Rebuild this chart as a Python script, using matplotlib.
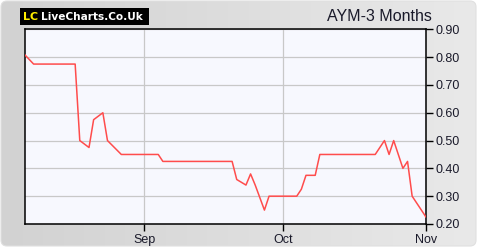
import matplotlib
matplotlib.use("Agg")
import matplotlib.pyplot as plt
from matplotlib.patches import FancyBboxPatch, Rectangle
from matplotlib.colors import LinearSegmentedColormap
import numpy as np
import pandas as pd

dates = ["2024-08-06", "2024-08-08", "2024-08-17", "2024-08-18", "2024-08-20",
         "2024-08-21", "2024-08-23", "2024-08-24", "2024-08-27", "2024-09-04",
         "2024-09-05", "2024-09-20", "2024-09-21", "2024-09-23", "2024-09-24",
         "2024-09-25", "2024-09-27", "2024-09-28", "2024-10-04", "2024-10-05",
         "2024-10-06", "2024-10-08", "2024-10-09", "2024-10-21", "2024-10-23",
         "2024-10-24", "2024-10-25", "2024-10-27", "2024-10-28", "2024-10-29",
         "2024-10-31", "2024-11-01"]
prices = [0.81, 0.775, 0.775, 0.50, 0.475, 0.575, 0.60, 0.50, 0.45, 0.45,
          0.425, 0.425, 0.36, 0.34, 0.38, 0.34, 0.25, 0.30, 0.30, 0.325,
          0.375, 0.375, 0.45, 0.45, 0.50, 0.45, 0.50, 0.40, 0.425, 0.30,
          0.25, 0.225]
yticks = [0.20, 0.30, 0.40, 0.50, 0.60, 0.70, 0.80, 0.90]
xtick_dates = ["2024-09-01", "2024-10-01", "2024-11-01"]
xtick_labels = ["Sep", "Oct", "Nov"]
title = "AYM-3 Months"

plt.rcParams['font.family'] = ['Liberation Sans', 'DejaVu Sans']

W, H = 480, 250
fig = plt.figure(figsize=(W/100, H/100), dpi=100)
fig.patch.set_facecolor("white")

bg = fig.add_axes([0, 0, 1, 1])
bg.set_xlim(0, W); bg.set_ylim(H, 0); bg.axis("off")
grad = np.linspace(0, 1, 256).reshape(1, -1)
cmap = LinearSegmentedColormap.from_list("g", ["#d2d2d2", "#e9e9e9"])
panel = FancyBboxPatch((1, 1), 475, 245, boxstyle="round,pad=0,rounding_size=6",
                       facecolor="none", edgecolor="#e0e0e0", lw=0.8)
bg.add_patch(panel)
im = bg.imshow(grad, extent=[1, 476, 246, 1], cmap=cmap, aspect="auto", zorder=0)
im.set_clip_path(panel)

# logo
bg.add_patch(Rectangle((20, 8), 129, 17, facecolor="black", edgecolor="none", zorder=2))
bg.text(23, 16.8, "LC", color="#ffee00", fontsize=8, fontweight="bold",
        va="center", ha="left", zorder=3, family=["DejaVu Sans"])
bg.text(41.5, 16.8, "LiveCharts.Co.Uk", color="white", fontsize=7.6, fontweight="bold",
        va="center", ha="left", zorder=3, family=["DejaVu Sans"])
bg.text(432, 16.5, title, color="#1a1a2a", fontsize=11.5, va="center", ha="right", zorder=3)

x0, x1, y0, y1 = 25.3, 426, 29.3, 224
ax = fig.add_axes([x0/W, 1 - y1/H, (x1-x0)/W, (y1-y0)/H])
ax.set_facecolor("#f7f8fe")
d = pd.to_datetime(dates)
ax.plot(d, prices, color="#ff4c4c", lw=1.1, zorder=3)
ax.set_xlim(pd.Timestamp("2024-09-01") - pd.Timedelta(days=25.8), pd.Timestamp("2024-11-01"))
ax.set_ylim(0.20, 0.90)
ax.set_yticks(yticks)
ax.set_yticklabels([f"{v:.2f}" for v in yticks])
ax.yaxis.tick_right()
ax.set_xticks(pd.to_datetime(xtick_dates))
ax.set_xticklabels(xtick_labels)
ax.grid(True, color="#c8c8c8", lw=0.9)
ax.set_axisbelow(True)
for s in ax.spines.values():
    s.set_color("black"); s.set_linewidth(1.1)
ax.tick_params(axis="y", direction="out", length=5, width=1, colors="black",
               labelcolor="#1a1a2a", labelsize=9, pad=2)
ax.tick_params(axis="x", direction="out", length=5, width=1, colors="black",
               labelcolor="#1a1a2a", labelsize=9, pad=2)

fig.savefig("out.png", dpi=100)
